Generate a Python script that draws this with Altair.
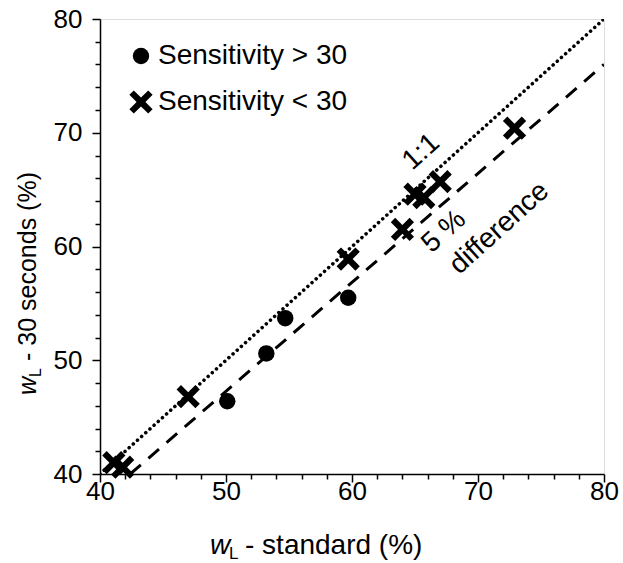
import altair as alt
import pandas as pd

# ---- data ----
circle_x = [50.1, 53.2, 54.7, 59.7]
circle_y = [46.4, 50.6, 53.7, 55.5]
cross_x = [41.1, 41.8, 47.0, 59.7, 64.0, 65.0, 65.7, 67.0, 72.9]
cross_y = [41.0, 40.6, 46.8, 58.9, 61.5, 64.6, 64.3, 65.7, 70.4]
groups = ["Sensitivity > 30", "Sensitivity < 30"]

line11_x = [40, 80]
line11_y = [40, 80]
line5_x = [42.4, 80]
line5_y = [40, 76.0]

ann_text = ["1:1", "5 %", "difference"]
ann_x = [65.5, 67.3, 71.7]
ann_y = [68.3, 61.3, 61.6]

FONT = "Liberation Sans"
FS = 26
W, H = 504, 455

pts = pd.DataFrame({
    "x": circle_x + cross_x,
    "y": circle_y + cross_y,
    "g": [groups[0]] * len(circle_x) + [groups[1]] * len(cross_x),
})
l11 = pd.DataFrame({"x": line11_x, "y": line11_y})
l5 = pd.DataFrame({"x": line5_x, "y": line5_y})
ann = pd.DataFrame({"t": ann_text, "x": ann_x, "y": ann_y})

XPATH = ("M-0.62,-1L0,-0.38L0.62,-1L1,-0.62L0.38,0L1,0.62L0.62,1L0,0.38"
         "L-0.62,1L-1,0.62L-0.38,0L-1,-0.62Z")

ticks = list(range(40, 81, 2))
tick_size = {"condition": {"test": "datum.value % 10 === 0", "value": 8}, "value": 5}
xscale = alt.Scale(domain=[40, 80], nice=False, zero=False)
yscale = alt.Scale(domain=[40, 80], nice=False, zero=False)

common = dict(values=ticks, labelExpr="datum.value % 10 === 0 ? datum.label : ''",
              tickSize=tick_size, title=None, grid=False, labelFlush=False,
              labelOverlap=False,
              labelFontSize=FS, labelFont=FONT, labelColor="black",
              domainColor="black", domainWidth=1.5, tickColor="black", tickWidth=1.5)
xaxis = alt.Axis(labelPadding=-4, **common)
yaxis = alt.Axis(labelPadding=10, **common)

X = alt.X("x:Q", scale=xscale, axis=xaxis)
Y = alt.Y("y:Q", scale=yscale, axis=yaxis)

one = alt.Chart(l11).mark_line(color="black", strokeWidth=3.5, strokeDash=[0.1, 5.5],
                               strokeCap="round", clip=True).encode(x=X, y=Y)
five = alt.Chart(l5).mark_line(color="black", strokeWidth=3, strokeDash=[14, 10],
                               clip=True).encode(x=X, y=Y)

leg = dict(title=None, orient="none", legendX=27, legendY=23, padding=0,
           labelFont=FONT, labelFontSize=28, labelColor="black", rowPadding=18,
           labelOffset=3, labelLimit=0, symbolFillColor="black",
           symbolStrokeColor="black", symbolStrokeWidth=0, symbolOpacity=1)

points = alt.Chart(pts).mark_point(filled=True, opacity=1, color="black").encode(
    x=X, y=Y,
    shape=alt.Shape("g:N", scale=alt.Scale(domain=groups, range=["circle", XPATH]),
                    legend=alt.Legend(**leg)),
    size=alt.Size("g:N", scale=alt.Scale(domain=groups, range=[270, 540]),
                  legend=alt.Legend(**leg)),
)

labels = alt.Chart(ann).mark_text(font=FONT, fontSize=28, color="black", angle=318,
                                  align="center", baseline="middle").encode(
    x=X, y=Y, text="t:N")

# axis titles (italic w with subscript L)
def tpiece(txt, x, y, size=FS, style="normal", angle=0):
    return alt.Chart(pd.DataFrame({"t": [txt]})).mark_text(
        font=FONT, fontSize=size, fontStyle=style, color="black", align="left",
        baseline="alphabetic", angle=angle).encode(
        x=alt.value(x), y=alt.value(y), text="t:N")

xt = [
    tpiece("w", 110, 535, size=28, style="italic"),
    tpiece("L", 129, 540, size=17),
    tpiece("- standard (%)", 145, 535, size=28),
]
yt = [
    tpiece("w", -64, 376, size=25, style="italic", angle=270),
    tpiece("L", -59, 358, size=16, angle=270),
    tpiece("- 30 seconds (%)", -64, 342, size=25, angle=270),
]

chart = alt.layer(one, five, points, labels, *xt, *yt).properties(
    width=W, height=H,
    autosize=alt.AutoSizeParams(type="none"),
    padding={"left": 100, "top": 19, "right": 19, "bottom": 89},
).configure_view(stroke="black", strokeWidth=1.5).configure(background="white")

chart.save("out.html", embed_options={"renderer": "svg", "actions": False})
